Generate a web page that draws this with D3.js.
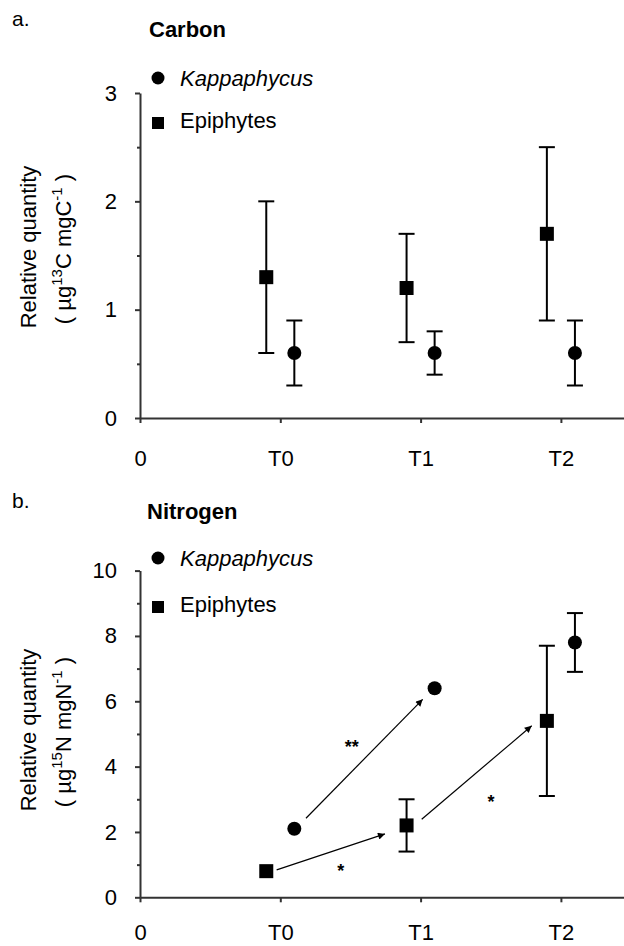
<!DOCTYPE html>
<html>
<head>
<meta charset="utf-8">
<script src="https://cdn.jsdelivr.net/npm/d3@7"></script>
<style>
  body { margin: 0; background: #fff; }
  svg { display: block; font-family: "Liberation Sans", Arial, sans-serif; }
</style>
</head>
<body>
<div class="figure"></div>
<script>
// x positions: 0 = origin, 1..3 = sampling times
var xTickValues = [0, 1, 2, 3];
var xTickLabels = ["0", "T0", "T1", "T2"];
var timePos = [1, 2, 3];

// panel a - carbon
var carbonKappa   = [0.6, 0.6, 0.6];
var carbonKappaLo = [0.3, 0.4, 0.3];
var carbonKappaHi = [0.9, 0.8, 0.9];
var carbonEpi     = [1.3, 1.2, 1.7];
var carbonEpiLo   = [0.6, 0.7, 0.9];
var carbonEpiHi   = [2.0, 1.7, 2.5];
var carbonTicks = [0, 1, 2, 3];
var carbonMinor = [0.5, 1.5, 2.5];

// panel b - nitrogen (null = no error bar drawn)
var nitroKappa   = [2.1, 6.4, 7.8];
var nitroKappaLo = [null, null, 6.9];
var nitroKappaHi = [null, null, 8.7];
var nitroEpi     = [0.8, 2.2, 5.4];
var nitroEpiLo   = [null, 1.4, 3.1];
var nitroEpiHi   = [null, 3.0, 7.7];
var nitroTicks = [0, 2, 4, 6, 8, 10];
var nitroMinor = [1, 3, 5, 7, 9];

// arrows in data units [xpos, value]
var nitroArrowFrom = [[1.183, 2.42], [0.974, 0.84], [2.008, 2.39]];
var nitroArrowTo   = [[2.015, 6.06], [1.746, 1.94], [2.792, 5.25]];
var nitroStars     = ["**", "*", "*"];
var nitroStarPos   = [[1.509, 4.76], [1.431, 0.94], [2.502, 3.06]];

var W = 624, H = 946;
var svg = d3.select(".figure").append("svg")
  .attr("width", W).attr("height", H);

var defs = svg.append("defs");
defs.append("marker")
  .attr("id", "arrowhead")
  .attr("viewBox", "0 0 10 10")
  .attr("refX", 10).attr("refY", 5)
  .attr("markerWidth", 10).attr("markerHeight", 7)
  .attr("markerUnits", "userSpaceOnUse")
  .attr("orient", "auto")
  .append("path").attr("d", "M0,0L10,5L0,10z").attr("fill", "#000");

var x = d3.scaleLinear().domain([0, 3.45]).range([140, 140 + 3.45 * 140.3]);
var offset = 0.1; // epiphytes left, kappaphycus right

function drawPanel(p) {
  var g = svg.append("g");
  var y = d3.scaleLinear().domain(p.yDomain).range([p.bottom, p.top]);

  // panel letter + title
  g.append("text").attr("x", 12).attr("y", p.letterY)
    .attr("font-size", 21).text(p.letter);
  g.append("text").attr("x", p.titleX).attr("y", p.titleY)
    .attr("font-size", 22).attr("font-weight", "bold").text(p.title);

  // axes
  g.append("g").attr("transform", "translate(" + x(0) + ",0)")
    .call(d3.axisLeft(y).tickValues(p.ticks).tickFormat(d3.format("d"))
      .tickSize(5).tickPadding(18).tickSizeOuter(0));
  g.append("g").attr("transform", "translate(" + x(0) + ",0)")
    .call(d3.axisLeft(y).tickValues(p.minor).tickSize(3).tickFormat("").tickSizeOuter(0))
    .select(".domain").remove();
  g.append("g").attr("transform", "translate(0," + y(0) + ")")
    .call(d3.axisBottom(x).tickValues(xTickValues)
      .tickFormat(function(d, i) { return xTickLabels[i]; })
      .tickSize(5).tickPadding(p.xPad).tickSizeOuter(0));
  g.selectAll(".tick text").attr("font-size", 22).attr("fill", "#000")
    .attr("font-family", "Liberation Sans, Arial, sans-serif");
  g.selectAll(".domain, .tick line").attr("stroke", "#333").attr("stroke-width", 2);

  // y title, two rotated lines
  g.append("text")
    .attr("transform", "translate(36," + p.titleMid + ") rotate(-90)")
    .attr("text-anchor", "middle").attr("font-size", 22)
    .text("Relative quantity");
  var t2 = g.append("text")
    .attr("transform", "translate(71," + (p.titleMid + 2) + ") rotate(-90)")
    .attr("text-anchor", "middle").attr("font-size", 22);
  t2.append("tspan").text("( µg");
  t2.append("tspan").attr("font-size", 15).attr("dy", -9).text(p.iso);
  t2.append("tspan").attr("dy", 9).text(p.unit1);
  t2.append("tspan").attr("font-size", 15).attr("dy", -9).text("-1");
  t2.append("tspan").attr("dy", 9).text(" )");

  // arrows
  if (p.arrowFrom) {
    p.arrowFrom.forEach(function(a, i) {
      var b = p.arrowTo[i];
      g.append("line")
        .attr("x1", x(a[0])).attr("y1", y(a[1]))
        .attr("x2", x(b[0])).attr("y2", y(b[1]))
        .attr("stroke", "#000").attr("stroke-width", 1.2)
        .attr("marker-end", "url(#arrowhead)");
    });
    p.stars.forEach(function(s, i) {
      g.append("text").attr("x", x(p.starPos[i][0])).attr("y", y(p.starPos[i][1]))
        .attr("dy", "0.6em").attr("text-anchor", "middle")
        .attr("font-size", 18).attr("font-weight", "bold").text(s);
    });
  }

  // error bars
  function errBars(vals, lo, hi, dx) {
    vals.forEach(function(v, i) {
      if (lo[i] == null) return;
      var cx = x(timePos[i] + dx);
      g.append("line").attr("x1", cx).attr("x2", cx)
        .attr("y1", y(lo[i])).attr("y2", y(hi[i]))
        .attr("stroke", "#000").attr("stroke-width", 2);
      [lo[i], hi[i]].forEach(function(e) {
        g.append("line").attr("x1", cx - 8).attr("x2", cx + 8)
          .attr("y1", y(e)).attr("y2", y(e))
          .attr("stroke", "#000").attr("stroke-width", 2);
      });
    });
  }
  errBars(p.epi, p.epiLo, p.epiHi, -offset);
  errBars(p.kappa, p.kappaLo, p.kappaHi, offset);

  g.selectAll(".sq").data(p.epi).enter().append("rect")
    .attr("x", function(d, i) { return x(timePos[i] - offset) - 7; })
    .attr("y", function(d) { return y(d) - 7; })
    .attr("width", 14).attr("height", 14).attr("fill", "#000");
  g.selectAll(".ci").data(p.kappa).enter().append("circle")
    .attr("cx", function(d, i) { return x(timePos[i] + offset); })
    .attr("cy", function(d) { return y(d); })
    .attr("r", 7).attr("fill", "#000");

  // legend
  g.append("circle").attr("cx", 158).attr("cy", p.legY1).attr("r", 6.5).attr("fill", "#000");
  g.append("text").attr("x", 180).attr("y", p.legY1 + 8).attr("font-size", 22)
    .attr("font-style", "italic").text("Kappaphycus");
  g.append("rect").attr("x", 152).attr("y", p.legY2 - 6).attr("width", 12).attr("height", 12)
    .attr("fill", "#000");
  g.append("text").attr("x", 180).attr("y", p.legY2 + 5).attr("font-size", 22)
    .text("Epiphytes");
}

drawPanel({
  letter: "a.", letterY: 26, title: "Carbon", titleX: 149, titleY: 37,
  yDomain: [0, 3], top: 93, bottom: 418, ticks: carbonTicks, minor: carbonMinor, xPad: 27,
  titleMid: 247, iso: "13", unit1: "C mgC",
  kappa: carbonKappa, kappaLo: carbonKappaLo, kappaHi: carbonKappaHi,
  epi: carbonEpi, epiLo: carbonEpiLo, epiHi: carbonEpiHi,
  legY1: 78, legY2: 123
});

drawPanel({
  letter: "b.", letterY: 508, title: "Nitrogen", titleX: 147, titleY: 519,
  yDomain: [0, 10], top: 570.6, bottom: 897.3, ticks: nitroTicks, minor: nitroMinor, xPad: 22,
  titleMid: 730, iso: "15", unit1: "N mgN",
  kappa: nitroKappa, kappaLo: nitroKappaLo, kappaHi: nitroKappaHi,
  epi: nitroEpi, epiLo: nitroEpiLo, epiHi: nitroEpiHi,
  arrowFrom: nitroArrowFrom, arrowTo: nitroArrowTo, stars: nitroStars, starPos: nitroStarPos,
  legY1: 558, legY2: 607
});
</script>
</body>
</html>
